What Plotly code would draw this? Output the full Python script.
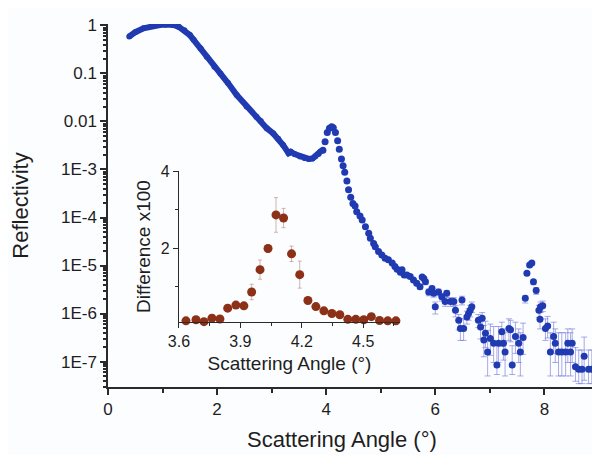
import plotly.graph_objects as go

# ---------------- data ----------------
# dense low-angle part of the reflectivity curve (angle, log10 reflectivity)
curve_angle = [0.39, 0.50, 0.65, 0.80, 0.95, 1.05, 1.20, 1.30, 1.40, 1.50, 1.57, 1.70, 1.81,
               1.95, 2.06, 2.20, 2.36, 2.54, 2.72, 2.80, 2.91, 3.03, 3.12, 3.21, 3.31,
               3.35, 3.42, 3.52, 3.60, 3.68, 3.75, 3.80, 3.86, 3.90]
curve_log10 = [-0.23, -0.14, -0.06, -0.01, 0.01, 0.02, 0.01, -0.03, -0.10, -0.20, -0.30, -0.48, -0.65,
               -0.86, -1.00, -1.20, -1.45, -1.69, -1.90, -1.99, -2.14, -2.25, -2.36, -2.49, -2.66,
               -2.63, -2.68, -2.73, -2.76, -2.78, -2.77, -2.73, -2.68, -2.62]

# discrete points of the reflectivity curve
pts_angle = [3.94, 3.98, 4.02, 4.06, 4.10, 4.13, 4.17, 4.21, 4.24, 4.28, 4.31, 4.34, 4.38, 4.41,
             4.45, 4.49, 4.53, 4.56, 4.62, 4.66, 4.72, 4.78, 4.81, 4.87, 4.90, 4.96, 5.02, 5.08,
             5.14, 5.21, 5.26, 5.30, 5.36, 5.39, 5.43, 5.48, 5.54, 5.60, 5.66, 5.72, 5.76, 5.79,
             5.82, 5.88, 5.94, 5.97, 6.00, 6.06, 6.12, 6.18, 6.21, 6.28, 6.34, 6.37, 6.43, 6.46,
             6.49, 6.52, 6.58, 6.61, 6.64, 6.67, 6.79, 6.83, 6.86, 6.89, 6.92, 6.96, 7.01, 7.07,
             7.13, 7.16, 7.22, 7.25, 7.28, 7.35, 7.38, 7.41, 7.47, 7.53, 7.56, 7.61, 7.65, 7.68,
             7.73, 7.77, 7.80, 7.85, 7.90, 7.92, 7.93, 7.97, 8.02, 8.06, 8.11, 8.17, 8.20, 8.26,
             8.32, 8.39, 8.43, 8.48, 8.51, 8.57, 8.63, 8.69, 8.73, 8.81, 8.87, 8.95]
pts_log10 = [-2.60, -2.42, -2.23, -2.14, -2.11, -2.13, -2.23, -2.40, -2.58, -2.78, -2.92, -3.06, -3.24, -3.42,
             -3.58, -3.71, -3.76, -3.88, -3.97, -4.05, -4.19, -4.33, -4.43, -4.54, -4.61, -4.71, -4.78, -4.85,
             -4.88, -4.95, -5.02, -5.08, -5.14, -5.09, -5.20, -5.20, -5.23, -5.30, -5.37, -5.44, -5.24, -5.27,
             -5.34, -5.55, -5.48, -5.58, -5.86, -5.55, -5.65, -5.75, -5.58, -5.75, -5.75, -5.93, -6.14, -6.31,
             -5.72, -6.31, -6.07, -6.00, -5.93, -5.86, -6.14, -6.28, -6.10, -6.55, -6.41, -6.80, -6.52, -6.62,
             -7.07, -6.62, -6.38, -6.62, -6.80, -6.31, -6.34, -7.07, -6.48, -6.62, -6.80, -6.50, -5.68, -5.16,
             -4.99, -4.95, -5.34, -5.52, -5.93, -6.12, -5.86, -5.84, -6.31, -6.26, -6.80, -6.48, -6.62, -6.80,
             -6.80, -6.80, -6.62, -6.80, -6.62, -7.11, -7.16, -7.16, -6.89, -7.16, -7.16, -6.69]
# error bar extents, in decades above / below each point
pts_err_up = [0]*36 + [0.03, 0.03, 0.04, 0.04, 0.03, 0.03,
              0.04, 0.06, 0.05, 0.06, 0.10, 0.06, 0.07, 0.08, 0.06, 0.08, 0.08, 0.10, 0.12, 0.20,
              0.08, 0.20, 0.12, 0.10, 0.10, 0.10, 0.12, 0.20, 0.12, 0.30, 0.25, 0.45, 0.30, 0.35,
              0.45, 0.35, 0.20, 0.30, 0.40, 0.20, 0.20, 0.40, 0.30, 0.30, 0.40, 0.30, 0.05, 0.03,
              0.03, 0.03, 0.04, 0.06, 0.10, 0.15, 0.10, 0.10, 0.20, 0.20, 0.40, 0.30, 0.30, 0.40,
              0.40, 0.40, 0.30, 0.40, 0.30, 0.40, 0.40, 0.40, 0.40, 0.40, 0.40, 0.30]
pts_err_dn = [0]*36 + [0.04, 0.04, 0.05, 0.05, 0.04, 0.04,
              0.05, 0.08, 0.07, 0.08, 0.15, 0.08, 0.09, 0.10, 0.08, 0.10, 0.10, 0.14, 0.20, 0.25,
              0.10, 0.25, 0.15, 0.14, 0.14, 0.12, 0.15, 0.25, 0.15, 0.35, 0.30, 0.50, 0.35, 0.40,
              0.20, 0.40, 0.30, 0.35, 0.50, 0.25, 0.25, 0.20, 0.35, 0.40, 0.50, 0.35, 0.10, 0.04,
              0.04, 0.04, 0.06, 0.08, 0.15, 0.20, 0.12, 0.12, 0.25, 0.25, 0.50, 0.35, 0.40, 0.50,
              0.50, 0.50, 0.40, 0.50, 0.40, 0.30, 0.30, 0.30, 0.50, 0.30, 0.30, 0.40]

# inset: difference x100 around the Bragg peak
inset_angle = [3.634, 3.683, 3.722, 3.761, 3.800, 3.838, 3.878, 3.917, 3.955, 3.996, 4.035, 4.074,
               4.111, 4.150, 4.190, 4.230, 4.269, 4.308, 4.347, 4.386, 4.425, 4.464, 4.503, 4.540,
               4.580, 4.620, 4.660]
inset_diff = [0.11, 0.14, 0.09, 0.18, 0.16, 0.44, 0.52, 0.50, 0.86, 1.44, 1.99, 2.86,
              2.78, 1.85, 1.31, 0.64, 0.48, 0.37, 0.30, 0.27, 0.15, 0.15, 0.14, 0.22,
              0.12, 0.11, 0.11]
inset_err = [0.04, 0.04, 0.04, 0.05, 0.05, 0.06, 0.06, 0.06, 0.20, 0.25, 0.10, 0.45,
             0.25, 0.20, 0.35, 0.08, 0.05, 0.05, 0.04, 0.04, 0.04, 0.04, 0.04, 0.04,
             0.04, 0.04, 0.04]

main_xticks = [0, 2, 4, 6, 8]
main_yticks = [1, 0.1, 0.01, 1e-3, 1e-4, 1e-5, 1e-6, 1e-7]
main_yticktext = ["1", "0.1", "0.01", "1E-3", "1E-4", "1E-5", "1E-6", "1E-7"]
inset_xticks = [3.6, 3.9, 4.2, 4.5]
inset_yticks = [2, 4]

# ---------------- figure ----------------
BLUE = "rgb(32,58,178)"
BROWN = "rgb(140,48,24)"
AXIS = "#2a2a2a"
FONT = "Liberation Sans, Arial, sans-serif"

curve_R = [10 ** e for e in curve_log10]
pts_R = [10 ** e for e in pts_log10]
err_plus = [r * (10 ** u - 1) for r, u in zip(pts_R, pts_err_up)]
err_minus = [r * (1 - 10 ** (-d)) for r, d in zip(pts_R, pts_err_dn)]

fig = go.Figure()
fig.add_trace(go.Scatter(
    x=curve_angle, y=curve_R, mode="lines+markers",
    line=dict(color=BLUE, width=6), marker=dict(color=BLUE, size=6),
    showlegend=False, xaxis="x", yaxis="y"))
fig.add_trace(go.Scatter(
    x=pts_angle, y=pts_R, mode="markers",
    marker=dict(color=BLUE, size=7),
    error_y=dict(type="data", symmetric=False, array=err_plus, arrayminus=err_minus,
                 color="rgba(110,115,215,0.6)", thickness=1, width=3),
    showlegend=False, xaxis="x", yaxis="y"))
fig.add_trace(go.Scatter(
    x=inset_angle, y=inset_diff, mode="markers",
    marker=dict(color=BROWN, size=9),
    error_y=dict(type="data", array=inset_err, color="rgba(190,150,140,0.7)",
                 thickness=1, width=2),
    showlegend=False, xaxis="x2", yaxis="y2", cliponaxis=False))

minor_log = [m * 10 ** k for k in range(-8, 1) for m in range(2, 10)]

# the page body adds an 8px offset, so the figure is 8px smaller on each side
fig.update_layout(
    width=592, height=447,
    margin=dict(l=100, r=0, t=16, b=68),
    paper_bgcolor="#fcfdff", plot_bgcolor="rgba(0,0,0,0)",
    font=dict(family=FONT, color="#1e1e1e", size=17),
    xaxis=dict(
        range=[0, 9.02], tickmode="array", tickvals=main_xticks, automargin=False,
        showline=True, linecolor=AXIS, linewidth=1.5, mirror=False,
        ticks="outside", ticklen=6, tickwidth=1.5, tickcolor=AXIS,
        minor=dict(dtick=1, ticks="outside", ticklen=4, tickcolor=AXIS, showgrid=False),
        showgrid=False, zeroline=False, tickfont=dict(size=17)),
    yaxis=dict(
        type="log", range=[-7.53, 0.03], tickmode="array", automargin=False,
        tickvals=main_yticks, ticktext=main_yticktext,
        showline=True, linecolor=AXIS, linewidth=1.5,
        ticks="outside", ticklen=6, tickwidth=1.5, tickcolor=AXIS,
        minor=dict(tickmode="array", tickvals=minor_log, ticks="outside", ticklen=3,
                   tickcolor=AXIS, showgrid=False),
        showgrid=False, zeroline=False, tickfont=dict(size=17),
        title=dict(text="Reflectivity", font=dict(size=22), standoff=27)),
    xaxis2=dict(
        domain=[0.1443, 0.5935], anchor="y2", range=[3.6, 4.68], automargin=False,
        tickmode="array", tickvals=inset_xticks, ticktext=["3.6", "3.9", "4.2", "4.5"],
        showline=True, linecolor=AXIS, linewidth=1.2,
        ticks="outside", ticklen=5, tickwidth=1.2, tickcolor=AXIS,
        minor=dict(tickmode="array", tickvals=[3.75, 4.05, 4.35, 4.65], ticks="outside",
                   ticklen=3, tickcolor=AXIS, showgrid=False),
        showgrid=False, zeroline=False, tickfont=dict(size=16),
        title=dict(text="Scattering Angle (°)", font=dict(size=19), standoff=7)),
    yaxis2=dict(
        domain=[0.179, 0.595], anchor="x2", range=[0.08, 4.0], automargin=False,
        tickmode="array", tickvals=inset_yticks,
        showline=True, linecolor=AXIS, linewidth=1.2,
        ticks="outside", ticklen=5, tickwidth=1.2, tickcolor=AXIS,
        minor=dict(tickmode="array", tickvals=[1, 3], ticks="outside", ticklen=3,
                   tickcolor=AXIS, showgrid=False),
        showgrid=False, zeroline=False, tickfont=dict(size=16),
        title=dict(text="Difference x100", font=dict(size=19), standoff=5)),
    annotations=[dict(text="Scattering Angle (°)", xref="paper", yref="paper",
                      x=0.4756, y=-0.146, xanchor="center", yanchor="middle",
                      showarrow=False, font=dict(size=22))],
)

fig.write_html("out.html")
